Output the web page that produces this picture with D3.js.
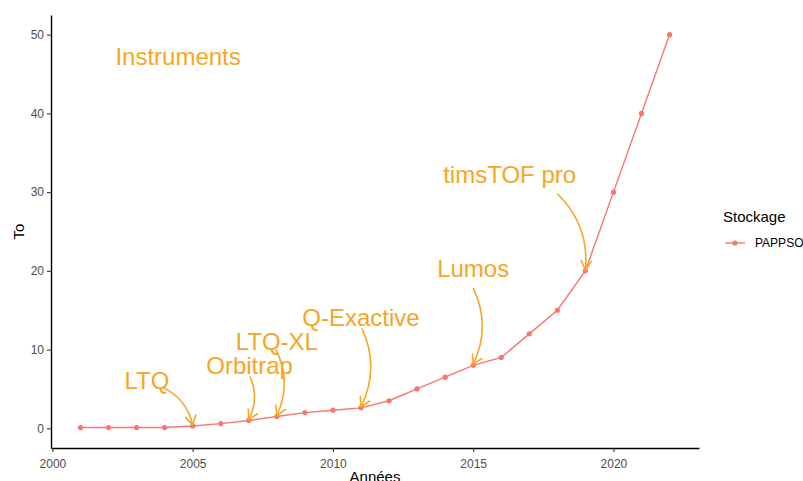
<!DOCTYPE html>
<html>
<head>
<meta charset="utf-8">
<script src="https://cdn.jsdelivr.net/npm/d3@7"></script>
<style>
  body { margin: 0; background: #fff; }
  text { font-family: "Liberation Sans", Arial, sans-serif; }
</style>
</head>
<body>
<div id="graph"></div>
<script>
var svgWidth = 803;
var svgHeight = 481;

// data
var years = [2001, 2002, 2003, 2004, 2005, 2006, 2007, 2008, 2009, 2010, 2011,
             2012, 2013, 2014, 2015, 2016, 2017, 2018, 2019, 2020, 2021, 2022];
var storage = [0.1, 0.1, 0.1, 0.1, 0.3, 0.6, 1.0, 1.5, 2.0, 2.3, 2.6,
               3.5, 5.0, 6.5, 8.0, 9.0, 12, 15, 20, 30, 40, 50];
var xTicks = [2000, 2005, 2010, 2015, 2020];
var yTicks = [0, 10, 20, 30, 40, 50];

// instrument annotations: label, label position (data units), year pointed at
var instruments = ["LTQ", "Orbitrap", "LTQ-XL", "Q-Exactive", "Lumos", "timsTOF pro"];
var labelYear = [2003.37, 2007.03, 2008.0, 2011.0, 2015.0, 2016.3];
var labelValue = [5.0, 6.9, 9.95, 13.0, 19.2, 31.15];
var arrowFromYear = [2003.94, 2007.04, 2007.97, 2011.03, 2015.0, 2018.0];
var arrowFromValue = [5.2, 6.6, 10.0, 12.7, 17.8, 29.8];
var arrowToYear = [2005, 2007, 2008, 2011, 2015, 2019];

var seriesName = "PAPPSO";
var lineColor = "#F8766D";
var noteColor = "#F6A623";

// plot area
var plotLeft = 51, plotRight = 699, plotTop = 15, plotBottom = 448;

var x = d3.scaleLinear().domain([1999.95, 2023.05]).range([plotLeft, plotRight]);
var y = d3.scaleLinear().domain([-2.5, 52.5]).range([plotBottom, plotTop]);

var svg = d3.select("#graph")
  .append("svg")
  .attr("width", svgWidth)
  .attr("height", svgHeight);

svg.append("rect")
  .attr("width", svgWidth)
  .attr("height", svgHeight)
  .attr("fill", "#fff");

// axes
var xAxis = svg.append("g")
  .attr("transform", "translate(0," + plotBottom + ")")
  .call(d3.axisBottom(x).tickValues(xTicks).tickFormat(d3.format("d")).tickSize(4).tickSizeOuter(0));
var yAxis = svg.append("g")
  .attr("transform", "translate(" + plotLeft + ",0)")
  .call(d3.axisLeft(y).tickValues(yTicks).tickSize(4).tickSizeOuter(0));

[xAxis, yAxis].forEach(function(g) {
  g.select(".domain").attr("stroke", "#000").attr("stroke-width", 1.4);
  g.selectAll(".tick line").attr("stroke", "#333").attr("stroke-width", 1.1);
  g.selectAll(".tick text")
    .attr("fill", "#4d4d4d")
    .attr("font-size", 12)
    .attr("font-family", "Liberation Sans, Arial, sans-serif");
});
xAxis.selectAll(".tick text").attr("dy", "1.05em");
yAxis.selectAll(".tick text").attr("x", -7);

// axis titles
svg.append("text")
  .attr("x", (plotLeft + plotRight) / 2)
  .attr("y", 482)
  .attr("text-anchor", "middle")
  .attr("font-size", 15)
  .text("Années");

svg.append("text")
  .attr("transform", "translate(24," + (plotTop + plotBottom) / 2 + ") rotate(-90)")
  .attr("text-anchor", "middle")
  .attr("font-size", 15)
  .text("To");

// line and points
var line = d3.line()
  .x(function(d, i) { return x(years[i]); })
  .y(function(d) { return y(d); });

svg.append("path")
  .datum(storage)
  .attr("d", line)
  .attr("fill", "none")
  .attr("stroke", lineColor)
  .attr("stroke-width", 1.4);

svg.selectAll(".pt")
  .data(storage)
  .enter().append("circle")
  .attr("class", "pt")
  .attr("cx", function(d, i) { return x(years[i]); })
  .attr("cy", function(d) { return y(d); })
  .attr("r", 2.6)
  .attr("fill", lineColor);

// annotations
svg.append("text")
  .attr("x", x(2004.48))
  .attr("y", y(46.2))
  .attr("text-anchor", "middle")
  .attr("font-size", 24)
  .attr("fill", noteColor)
  .text("Instruments");

var notes = svg.append("g");

instruments.forEach(function(name, i) {
  notes.append("text")
    .attr("x", x(labelYear[i]))
    .attr("y", y(labelValue[i]))
    .attr("text-anchor", "middle")
    .attr("font-size", 24)
    .attr("fill", noteColor)
    .text(name);

  var x0 = x(arrowFromYear[i]), y0 = y(arrowFromValue[i]);
  var target = years.indexOf(arrowToYear[i]);
  var x1 = x(years[target]), y1 = y(storage[target]) - 1;
  var dx = x1 - x0, dy = y1 - y0;
  // control point bent to the right of the travel direction
  var cx = (x0 + x1) / 2 + dy * 0.24;
  var cy = (y0 + y1) / 2 - dx * 0.24;

  notes.append("path")
    .attr("d", "M" + x0 + "," + y0 + "Q" + cx + "," + cy + " " + x1 + "," + y1)
    .attr("fill", "none")
    .attr("stroke", noteColor)
    .attr("stroke-width", 1.6);

  // open arrow head
  var ang = Math.atan2(y1 - cy, x1 - cx);
  var len = 11, spread = Math.PI / 6;
  var ax = x1 - len * Math.cos(ang - spread), ay = y1 - len * Math.sin(ang - spread);
  var bx = x1 - len * Math.cos(ang + spread), by = y1 - len * Math.sin(ang + spread);
  notes.append("path")
    .attr("d", "M" + ax + "," + ay + "L" + x1 + "," + y1 + "L" + bx + "," + by)
    .attr("fill", "none")
    .attr("stroke", noteColor)
    .attr("stroke-width", 1.6);
});

// legend
var legend = svg.append("g").attr("transform", "translate(723,0)");
legend.append("text")
  .attr("x", 0)
  .attr("y", 222)
  .attr("font-size", 15)
  .text("Stockage");
legend.append("line")
  .attr("x1", 2).attr("x2", 22)
  .attr("y1", 243).attr("y2", 243)
  .attr("stroke", lineColor)
  .attr("stroke-width", 1.4);
legend.append("circle")
  .attr("cx", 12).attr("cy", 243).attr("r", 2.6)
  .attr("fill", lineColor);
legend.append("text")
  .attr("x", 32)
  .attr("y", 247)
  .attr("font-size", 12)
  .text(seriesName);
</script>
</body>
</html>
